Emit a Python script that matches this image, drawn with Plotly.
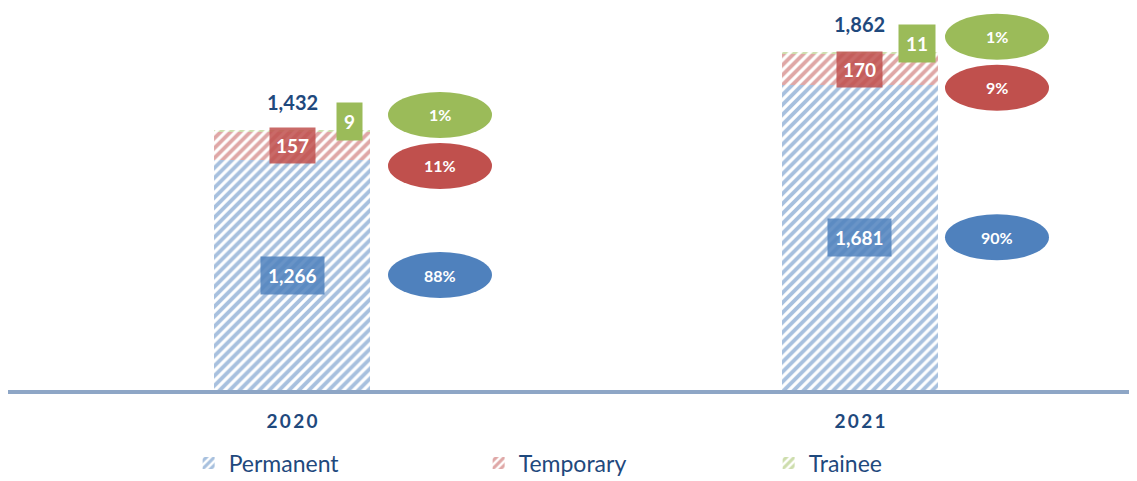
import plotly.graph_objects as go

years = ["2020", "2021"]
permanent = [1266, 1681]
temporary = [157, 170]
trainee = [9, 11]
totals = [1432, 1862]

series_names = ["Permanent", "Temporary", "Trainee"]
colors = ["#4F81BD", "#C0504D", "#9BBB59"]
box_colors = ["rgba(79,129,189,0.85)", "rgba(192,80,77,0.85)", "#9BBB59"]
text_blue = "#1F497D"
font_family = "Lato, Open Sans, sans-serif"

x = list(range(len(years)))
bar_width = 0.273

fig = go.Figure()
for name, vals, col in zip(series_names, [permanent, temporary, trainee], colors):
    fig.add_trace(go.Bar(
        x=x, y=vals, name=name, width=bar_width,
        marker=dict(color=col, line=dict(width=0),
                    pattern=dict(shape="/", fgcolor=col, bgcolor="white",
                                 size=7, solidity=0.55)),
        hoverinfo="skip",
    ))

ellipse_dx = [148, 137]  # horizontal pixel offset of the % bubbles per year

for i in x:
    tot = totals[i]
    pct = [permanent[i] / tot, temporary[i] / tot, trainee[i] / tot]

    # total label above the bar
    fig.add_annotation(x=i, y=tot, text=f"<b>{tot:,}</b>", showarrow=False,
                       yshift=28, font=dict(size=20, color=text_blue, family=font_family))
    # permanent value in the middle of its segment
    fig.add_annotation(x=i, y=permanent[i] / 2, text=f"<b>{permanent[i]:,}</b>",
                       showarrow=False, bgcolor=box_colors[0], borderpad=7,
                       font=dict(size=19, color="white", family=font_family))
    # temporary value
    fig.add_annotation(x=i, y=permanent[i] + temporary[i] / 2, text=f"<b>{temporary[i]:,}</b>",
                       showarrow=False, bgcolor=box_colors[1], borderpad=6,
                       font=dict(size=19, color="white", family=font_family))
    # trainee value (box to the upper right of the bar)
    fig.add_annotation(x=i, y=tot, text=f"<b>{trainee[i]:,}</b>", showarrow=False,
                       xshift=57, yshift=8, bgcolor=box_colors[2], borderpad=7,
                       font=dict(size=19, color="white", family=font_family))

    # percentage bubbles
    bubble_y = [permanent[i] / 2, tot, tot]
    bubble_dy = [0, -36, 15]
    for k in range(3):
        fig.add_shape(type="circle", xref="x", yref="y",
                      xsizemode="pixel", ysizemode="pixel",
                      xanchor=i, yanchor=bubble_y[k],
                      x0=ellipse_dx[i] - 52, x1=ellipse_dx[i] + 52,
                      y0=bubble_dy[k] - 23, y1=bubble_dy[k] + 23,
                      fillcolor=colors[k], line=dict(width=0), layer="above")
        fig.add_annotation(x=i, y=bubble_y[k], text=f"<b>{pct[k]:.0%}</b>", showarrow=False,
                           xshift=ellipse_dx[i], yshift=bubble_dy[k],
                           font=dict(size=16, color="white", family=font_family))

# the page adds an 8px body margin, so the figure is sized to fit the window
fig.update_layout(
    width=1129, height=473,
    barmode="stack",
    plot_bgcolor="white", paper_bgcolor="white",
    margin=dict(l=0, r=0, t=0, b=91, autoexpand=False),
    font=dict(family=font_family, color=text_blue),
    xaxis=dict(range=[-0.5, 1.4877], tickvals=x,
               ticktext=["<b>" + "\u2009".join(y) + "</b>" for y in years],
               showline=True, linecolor="#8EA6C6", linewidth=4,
               showgrid=False, zeroline=False,
               ticks="outside", ticklen=11, tickcolor="rgba(0,0,0,0)",
               tickfont=dict(size=19, color=text_blue, family=font_family)),
    yaxis=dict(range=[0, 2103], visible=False, showgrid=False, zeroline=False),
    showlegend=True,
    legend=dict(orientation="h", x=0.16, xanchor="left", y=-0.191, yanchor="middle",
                entrywidth=245, entrywidthmode="pixels", itemwidth=30,
                font=dict(size=23, color=text_blue, family=font_family),
                traceorder="normal"),
)

fig.write_html("out.html")
